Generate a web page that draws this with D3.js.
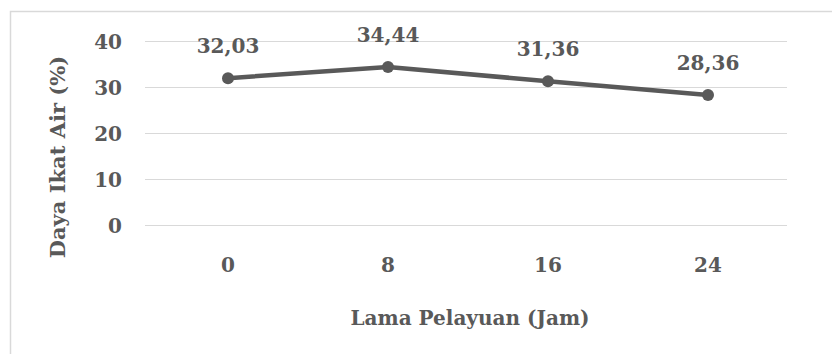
<!DOCTYPE html>
<html>
<head>
<meta charset="utf-8">
<script src="https://cdn.jsdelivr.net/npm/d3@7"></script>
<style>
  html, body { margin: 0; padding: 0; background: #fff; }
  svg { display: block; }
  svg text { font-weight: bold; fill: #595959; }
</style>
</head>
<body>
<script>
// Water holding capacity over withering time
const categories = ["0", "8", "16", "24"];
const values = [32.03, 34.44, 31.36, 28.36];
const yTicks = [0, 10, 20, 30, 40];
const xTitle = "Lama Pelayuan (Jam)";
const yTitle = "Daya Ikat Air (%)";

const W = 832, H = 354;
const FONT = "'DejaVu Serif', serif";
const svg = d3.select("body").append("svg").attr("width", W).attr("height", H);

// chart area frame
svg.append("rect")
  .attr("x", 10.5).attr("y", 11.5)
  .attr("width", 840).attr("height", 360)
  .attr("fill", "none").attr("stroke", "#d9d9d9").attr("stroke-width", 1.5);

const grid = { left: 145, right: 787 };
const x = d3.scaleBand().domain(categories).range([148, 788]);
const y = d3.scaleLinear().domain([0, 40]).range([225.5, 41.5]);

// gridlines
svg.append("g").selectAll("line").data(yTicks).join("line")
  .attr("x1", grid.left).attr("x2", grid.right)
  .attr("y1", d => Math.floor(y(d)) + 0.5).attr("y2", d => Math.floor(y(d)) + 0.5)
  .attr("stroke", "#d9d9d9").attr("stroke-width", 1);

// y axis labels
const yAxis = d3.axisLeft(y).tickValues(yTicks).tickSize(0).tickPadding(0);
const gy = svg.append("g").attr("transform", "translate(122,0)").call(yAxis)
  .attr("font-family", FONT).attr("font-size", 20);
gy.select(".domain").remove();
gy.selectAll("text").attr("dy", "0.35em").attr("x", 0);

// x axis labels
const xAxis = d3.axisBottom(x).tickSize(0).tickPadding(0);
const gx = svg.append("g").attr("transform", "translate(0,265)").call(xAxis)
  .attr("font-family", FONT).attr("font-size", 20);
gx.select(".domain").remove();
gx.selectAll("text").attr("dy", "0.35em").attr("y", 0);

// line
const cx = d => x(d) + x.bandwidth() / 2;
const line = d3.line().x((d, i) => cx(categories[i])).y(d => y(d));
svg.append("path").datum(values)
  .attr("d", line).attr("fill", "none")
  .attr("stroke", "#595959").attr("stroke-width", 4.5).attr("stroke-linejoin", "round");

// markers
svg.append("g").selectAll("circle").data(values).join("circle")
  .attr("cx", (d, i) => cx(categories[i])).attr("cy", d => y(d))
  .attr("r", 6).attr("fill", "#595959");

// value labels
svg.append("g").attr("font-family", FONT).selectAll("text").data(values).join("text")
  .attr("x", (d, i) => cx(categories[i])).attr("y", d => y(d) - 25)
  .attr("text-anchor", "middle").attr("font-size", 20)
  .text(d => d.toFixed(2).replace(".", ","));

// axis titles
svg.append("text")
  .attr("font-family", FONT)
  .attr("x", 470).attr("y", 325)
  .attr("text-anchor", "middle").attr("font-size", 20)
  .text(xTitle);

svg.append("text")
  .attr("font-family", FONT)
  .attr("transform", "translate(65,157) rotate(-90)")
  .attr("text-anchor", "middle").attr("font-size", 21)
  .text(yTitle);
</script>
</body>
</html>
